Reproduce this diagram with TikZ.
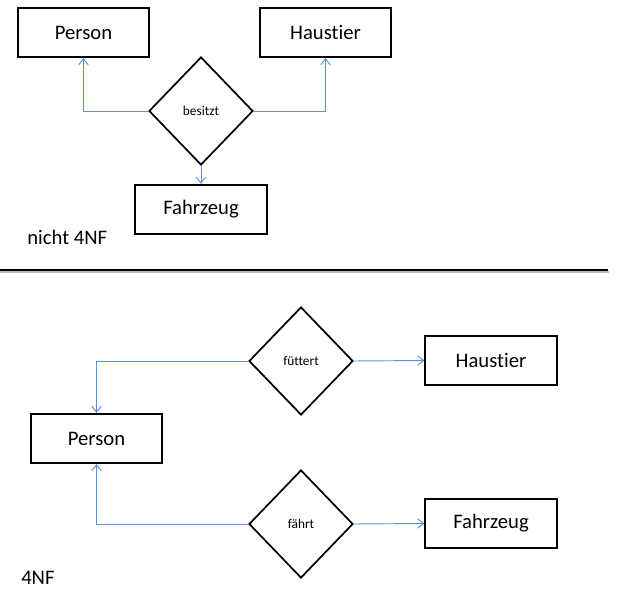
\documentclass[tikz,border=0pt]{standalone}
\usepackage{fontspec}
\setmainfont{Carlito}[Ligatures={NoCommon}]
\usepackage{tikz}
\usetikzlibrary{arrows.meta,shapes.geometric}
\definecolor{ErBlue}{HTML}{5F8FCF}

\begin{document}
\begin{tikzpicture}[
  x=0.75pt,y=-0.75pt,
  every node/.style={font=\fontsize{15.5}{18}\selectfont},
  entity/.style={draw=black,line width=1.3pt,minimum width=98.5pt,
    minimum height=37pt,inner sep=0pt},
  rel/.style={draw=black,line width=1.3pt,diamond,minimum width=78pt,
    minimum height=81pt,inner sep=0pt,font=\fontsize{10}{12}\selectfont},
  arr/.style={-{Straight Barb[length=4.5pt,width=7pt]},ErBlue,line width=0.7pt}
]
\useasboundingbox (0,0) rectangle (625,599);
% nicht 4NF
\node[entity] (person1) at (83.5,32.5) {Person};
\node[entity] (haustier1) at (325.5,32.5) {Haustier};
\node[rel] (besitzt) at (201,111) {besitzt};
\node[entity] (fahrzeug1) at (201,209.5) {Fahrzeug};
\node[anchor=west,inner sep=0pt] (nicht4nf) at (27,237) {nicht 4NF};
\draw[arr] (besitzt.west) -| (person1.south);
\draw[arr] (besitzt.east) -| (haustier1.south);
\draw[arr] (besitzt.south) -- (fahrzeug1.north);
% Trennlinie
\draw[black!25,line width=1.5pt] (0,272) -- (609,272);
\draw[black,line width=1.5pt] (0,270) -- (608,270);
% 4NF
\node[entity] (person2) at (96.5,438.5) {Person};
\node[rel] (fuettert) at (301,361) {füttert};
\node[entity] (haustier2) at (491,360.5) {Haustier};
\node[rel] (faehrt) at (301,524) {fährt};
\node[entity] (fahrzeug2) at (491,523.5) {Fahrzeug};
\node[anchor=west,inner sep=0pt] (vier) at (21,578) {4NF};
\draw[arr] (fuettert.west) -| (person2.north);
\draw[arr] (faehrt.west) -| (person2.south);
\draw[arr] (fuettert.east) -- (haustier2.west);
\draw[arr] (faehrt.east) -- (fahrzeug2.west);
\end{tikzpicture}
\end{document}
